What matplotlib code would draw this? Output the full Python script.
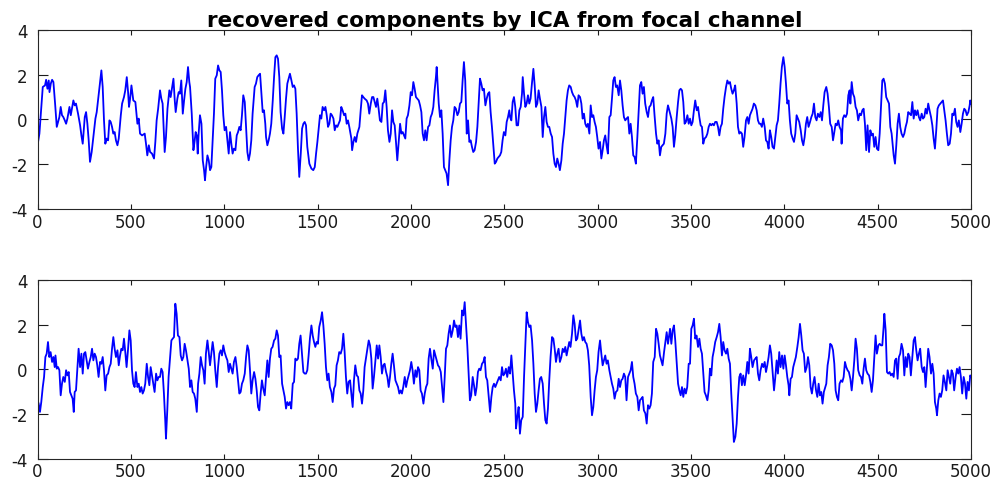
import numpy as np
import matplotlib
matplotlib.use('Agg')
import matplotlib.pyplot as plt

# ICA components, (sample, amplitude) vertices
comp1 = [
    (0,-1.15),(10,-0.63),(28,1.45),(40,1.52),(46,1.77),(53,1.37),(60,1.74),(64,1.22),(71,1.60),(78,1.77),(85,1.67),(94,0.71),(103,-0.33),(110,-0.11),(117,0.11),(124,0.56),(131,0.19),(138,0.11),(146,-0.04),(153,-0.19),(160,0.04),(171,0.56),(178,0.19),(192,0.85),(199,0.63),(206,0.71),(217,0.26),(228,-0.26),(235,-0.71),(242,-1.08),(246,-0.63),(253,0.11),(260,0.33),(267,-0.19),(274,-0.93),(281,-1.89),(290,-1.45),(299,-0.78),(310,0.04),(317,0.33),(328,1.15),(335,1.67),(342,2.19),(349,1.45),(356,-0.04),(363,-1.08),(371,-0.85),(378,-0.93),(385,-0.04),(392,-0.11),(399,-0.33),(406,-0.63),(413,-0.56),(420,-0.93),(428,-1.15),(435,-0.85),(446,0.19),(453,0.71),(463,1.00),(470,1.30),(478,1.89),(485,1.22),(490,0.56),(496,0.93),(503,1.52),(513,0.85),(524,0.78),(535,-0.19),(542,0.04),(549,-0.63),(560,-0.71),(574,-0.63),(581,-1.08),(588,-1.60),(596,-1.15),(603,-1.45),(613,-1.52),(624,-1.74),(631,-1.00),(638,-0.04),(646,0.48),(656,1.30),(663,0.93),(670,0.71),(681,-1.45),(688,-0.78),(696,0.48),(706,1.30),(713,1.00),(720,1.37),(728,1.82),(735,0.85),(740,0.33),(749,0.93),(756,1.22),(763,1.15),(770,1.74),(778,0.26),(785,0.85),(792,1.37),(799,1.67),(806,2.34),(813,1.67),
    (817,1.45),(826,0.26),(835,-1.37),(842,-0.93),(847,-0.56),(853,-0.71),(858,-1.52),(863,-0.63),(870,0.19),(878,-0.19),(885,-1.82),(892,-2.26),(897,-2.71),(903,-2.12),(910,-1.60),(917,-1.82),(924,-2.26),(931,-2.12),(938,-0.93),(945,0.26),(952,1.82),(960,1.97),(967,2.41),(974,2.19),(981,2.12),(988,1.30),(995,0.19),(1002,-0.48),(1010,-0.33),(1017,-0.93),(1024,-1.52),(1031,-0.56),(1038,-1.08),(1045,-1.52),(1052,-1.30),(1060,-1.37),(1067,-0.71),(1074,-0.56),(1081,-0.33),(1088,-0.48),(1095,0.19),(1102,1.08),(1110,0.78),(1117,-0.33),(1124,-1.45),(1131,-1.82),(1138,-1.52),(1145,-0.93),(1152,0.26),(1163,1.45),(1170,1.60),(1177,1.89),(1184,1.97),(1192,2.04),(1199,1.15),(1206,0.33),(1213,0.41),(1220,-0.19),(1224,-0.78),(1231,-1.15),(1238,-0.93),(1245,-0.63),(1252,-0.19),(1260,0.85),(1267,1.89),(1274,2.78),(1281,2.86),(1288,2.71),(1295,1.89),(1302,0.33),(1310,-0.41),(1317,-0.63),(1324,0.11),(1331,0.93),(1338,1.60),(1345,1.82),(1352,2.04),(1360,1.74),(1367,1.45),(1374,1.52),(1381,1.37),(1388,0.26),(1395,-1.30),(1402,-2.56),(1410,-1.52),(1417,-0.41),(1424,-0.19),(1431,-0.11),(1438,-0.26),(1445,-1.22),(1456,-1.97),(1467,-2.19),(1477,-2.26),(1485,-2.12),(1492,-1.52),(1499,-1.00),(1506,-0.41),(1513,0.19),(1520,0.04),(1527,0.56),(1535,0.41),(1542,0.56),(1549,0.19),(1556,-0.33),(1563,-0.19),(1570,0.26),(1577,0.19),(1585,0.04),(1592,-0.48),(1599,-0.26),(1606,-0.33),(1613,-0.19),(1620,-0.04),(1627,0.56),(1634,0.41),(1642,0.19),(1649,0.26),(1656,-0.19),(1663,-0.04),(1670,-0.33),
    (1681,-0.85),(1685,-1.37),(1692,-1.00),(1699,-0.78),(1706,-1.00),(1713,-0.63),(1724,-0.33),(1731,0.41),(1738,1.08),(1745,1.00),(1752,0.93),(1763,0.85),(1770,0.71),(1777,0.26),(1785,0.71),(1792,1.00),(1799,1.00),(1806,0.78),(1813,0.56),(1820,0.93),(1827,0.48),(1834,-0.04),(1842,-0.11),(1849,0.71),(1856,0.78),(1863,1.30),(1870,0.56),(1877,-0.48),(1885,-1.00),(1892,-0.63),(1899,0.41),(1906,-0.11),(1913,-0.26),(1920,-1.00),(1927,-1.82),(1934,-1.08),(1942,-0.19),(1949,-0.63),(1956,-0.56),(1963,-0.71),(1970,-0.85),(1977,0.04),(1984,0.19),(1992,0.63),(1999,1.22),(2006,1.08),(2013,1.67),(2020,1.37),(2027,1.00),(2034,0.93),(2042,0.85),(2049,0.63),(2056,0.33),(2063,-0.63),(2070,-0.93),(2077,-0.48),(2084,-0.93),(2092,-0.33),(2099,-0.26),(2106,0.11),(2113,0.26),(2120,0.56),(2127,1.30),(2134,1.89),(2138,2.34),(2142,1.74),(2149,0.71),(2156,0.11),(2163,0.41),(2170,-0.63),(2177,-2.12),(2184,-2.26),(2191,-2.41),(2199,-2.93),(2206,-1.82),(2213,-0.93),(2220,-0.33),(2227,-0.04),(2234,0.56),(2241,0.48),(2249,0.19),(2256,0.33),(2263,0.71),(2270,0.78),(2277,1.74),(2284,2.56),(2291,1.74),(2299,-0.63),(2306,-0.04),(2313,-1.00),(2320,-0.93),(2327,-1.22),(2334,-1.45),(2341,-1.37),(2349,-1.00),(2356,-0.33),(2363,0.78),(2370,1.82),(2377,1.60),(2384,1.30),(2391,1.37),(2399,0.63),(2406,0.93),(2413,1.15),(2420,1.22),(2427,0.33),(2434,-0.33),(2441,-1.08),(2449,-1.97),(2456,-1.89),(2463,-1.74),(2470,-1.67),(2477,-1.60),(2484,-1.45),(2491,-0.93),(2498,-0.56),(2506,-0.71),(2513,-0.11),(2520,0.11),(2527,0.41),
    (2531,0.11),(2538,-0.04),(2545,0.78),(2552,1.00),(2559,0.56),(2566,-0.26),(2574,-0.26),(2581,0.41),(2588,0.56),(2595,1.15),(2599,1.89),(2606,1.15),(2613,0.56),(2620,0.71),(2627,1.08),(2634,0.71),(2641,0.93),(2649,1.67),(2656,2.26),(2663,1.52),(2670,0.56),(2677,0.71),(2684,1.30),(2691,0.93),(2699,0.56),(2706,-0.78),(2713,0.11),(2720,0.56),(2727,-0.11),(2734,-0.33),(2741,-0.33),(2749,-0.63),(2756,-0.78),(2763,-1.52),(2770,-1.97),(2777,-2.12),(2784,-1.74),(2791,-1.97),(2798,-2.26),(2806,-1.82),(2813,-1.08),(2820,-0.63),(2827,0.11),(2834,0.85),(2841,1.30),(2848,1.52),(2856,1.45),(2863,1.22),(2870,1.08),(2877,1.00),(2884,0.85),(2891,0.56),(2898,1.08),(2906,1.00),(2913,0.71),(2920,0.04),(2927,0.26),(2934,-0.19),(2941,-0.33),(2948,-0.19),(2956,-0.63),(2963,0.63),(2970,0.11),(2977,0.19),(2984,-0.11),(2991,-0.33),(2998,-0.78),(3005,-1.30),(3013,-1.00),(3020,-1.74),(3027,-1.37),(3034,-0.93),(3041,-0.71),(3048,-1.15),(3055,-1.52),(3063,0.11),(3070,0.19),(3077,0.93),(3084,1.74),(3091,1.89),(3098,1.45),(3105,1.52),(3113,1.08),(3120,1.74),(3127,1.30),(3134,0.63),(3141,0.11),(3148,-0.04),(3155,0.04),(3163,0.11),(3170,-0.63),(3177,-0.19),(3184,-0.78),(3191,-1.60),(3198,-1.67),(3205,-1.97),(3213,-0.78),(3220,0.41),(3227,1.52),(3234,1.67),(3241,1.15),(3248,1.45),(3255,0.71),(3263,0.33),(3270,0.11),(3277,0.56),(3284,0.63),(3291,0.85),(3298,1.00),(3305,0.19),(3313,-0.63),(3320,-1.08),(3327,-0.93),(3334,-1.60),(3341,-1.22),(3348,-1.15),(3355,-1.08),(3363,-0.63),(3370,0.26),(3377,0.63),(3384,0.41),
    (3395,0.04),(3402,-0.33),(3409,-1.22),(3416,-0.71),(3423,0.04),(3431,0.78),(3438,1.30),(3445,1.37),(3452,1.30),(3459,0.78),(3466,-0.19),(3473,-0.11),(3481,0.19),(3488,-0.19),(3495,0.04),(3502,-0.26),(3509,-0.11),(3516,0.41),(3523,0.85),(3531,0.41),(3538,0.56),(3545,0.11),(3552,-0.26),(3559,-0.33),(3566,-1.08),(3573,-0.85),(3581,-0.78),(3588,-0.63),(3595,-0.33),(3602,-0.19),(3609,-0.26),(3616,-0.19),(3623,-0.26),(3630,-0.11),(3638,-0.11),(3645,-0.33),(3652,-0.71),(3659,-0.33),(3666,-0.19),(3673,0.48),(3680,1.00),(3688,1.45),(3695,1.74),(3702,1.60),(3709,1.67),(3716,1.37),(3723,1.15),(3730,1.30),(3737,1.52),(3745,0.71),(3752,-0.33),(3759,-0.63),(3766,-0.56),(3773,-0.63),(3780,-1.22),(3787,-0.78),(3795,-0.04),(3802,0.11),(3809,-0.19),(3816,0.19),(3823,0.33),(3830,0.48),(3837,0.71),(3845,0.63),(3852,0.41),(3859,-0.04),(3866,-0.19),(3873,-0.19),(3880,-0.33),(3887,0.04),(3895,-0.33),(3902,-0.93),(3909,-1.00),(3916,-1.30),(3923,-0.48),(3930,-0.78),(3937,-1.22),(3945,-1.30),(3952,-0.78),(3959,-0.26),(3966,-0.04),(3973,0.71),(3980,1.60),(3987,2.34),(3995,2.78),(4002,2.34),(4009,1.60),(4016,0.71),(4023,0.85),(4030,-0.04),(4037,-0.63),(4045,-0.85),(4052,-1.00),(4059,-0.63),(4066,0.19),(4073,0.04),(4080,-0.11),(4088,-0.48),(4095,-0.93),(4102,-1.15),(4109,-0.78),(4116,-0.19),(4123,0.11),(4130,-0.33),(4138,-0.11),(4145,0.11),(4152,0.26),(4159,0.71),(4166,0.11),(4173,-0.04),(4180,0.26),(4188,0.11),(4195,0.33),(4202,-0.04),(4209,0.63),(4216,1.22),
    (4225,1.45),(4232,1.15),(4239,0.56),(4246,-0.19),(4254,-0.33),(4261,-0.93),(4268,-0.56),(4275,-0.19),(4282,-0.26),(4289,-0.04),(4296,-0.33),(4304,-0.48),(4307,-1.08),(4314,0.04),(4321,0.19),(4329,0.11),(4336,0.26),(4343,1.08),(4350,1.30),(4354,0.71),(4361,1.67),(4368,1.15),(4375,1.00),(4382,0.56),(4389,0.41),(4396,-0.04),(4404,0.26),(4411,0.19),(4418,0.41),(4425,0.48),(4432,-0.19),(4439,-1.37),(4446,-0.26),(4454,-1.45),(4461,-0.48),(4468,-0.71),(4475,-0.63),(4482,-1.22),(4489,-0.78),(4496,-1.30),(4504,-1.37),(4511,-0.63),(4518,0.56),(4525,1.74),(4532,1.82),(4539,1.60),(4546,1.00),(4554,0.85),(4561,0.71),(4568,-0.33),(4575,-0.63),(4582,-1.22),(4586,-1.60),(4593,-1.97),(4600,-1.15),(4607,-0.19),(4614,0.26),(4621,-0.33),(4628,-0.63),(4636,-0.78),(4643,-0.63),(4650,-0.33),(4657,-0.11),(4664,0.33),(4671,0.26),(4679,0.19),(4686,0.78),(4693,0.04),(4700,0.41),(4707,0.19),(4714,0.41),(4721,0.11),(4728,-0.04),(4736,0.26),(4743,0.04),(4750,0.11),(4757,0.48),(4764,0.26),(4771,0.71),(4778,0.41),(4786,0.11),(4793,-0.26),(4800,-0.85),(4807,-1.30),(4814,-0.48),(4821,0.48),(4828,0.63),(4836,0.71),(4843,0.78),(4850,0.85),(4857,0.41),(4864,-0.04),(4871,-0.63),(4878,-1.15),(4886,-1.08),(4893,-0.63),(4900,0.26),(4907,0.19),(4914,0.48),(4921,-0.11),(4928,-0.33),(4935,-0.04),(4943,-0.56),(4950,-0.19),(4957,0.26),(4964,0.48),(4971,0.41),(4978,0.19),(4986,0.33),(4993,0.63),(4996,0.85),(5000,0.71),
]

comp2 = [
    (0,-1.38),(6,-1.53),(13,-1.90),(20,-1.46),(28,-0.79),(35,-0.34),(42,0.55),(49,0.70),(56,1.22),(63,0.55),(70,0.77),(78,0.33),(85,0.55),(92,0.10),(96,0.62),(103,0.03),(110,0.10),(117,-0.04),(124,-1.16),(131,-0.64),(138,-0.34),(146,-0.56),(153,-0.04),(160,-0.27),(167,-0.12),(174,-1.01),(181,-1.16),(188,-1.31),(194,-1.90),(199,-1.01),(206,-0.94),(213,-0.04),(220,0.92),(228,0.10),(235,0.70),(242,-0.19),(249,0.70),(256,0.77),(263,0.40),(270,0.03),(278,0.33),(285,0.55),(292,0.92),(299,0.40),(306,0.70),(313,0.55),(320,0.18),(327,-0.34),(335,0.33),(342,0.25),(349,0.55),(356,-0.04),(363,-0.94),(370,-0.27),(378,-0.19),(385,0.10),(392,0.25),(399,0.92),(406,1.44),(413,0.92),(420,0.55),(428,0.85),(435,0.18),(442,0.62),(449,0.92),(456,0.85),(463,1.37),(470,0.77),(477,0.10),(485,0.92),(492,1.74),(499,1.29),(506,-0.04),(513,-0.64),(520,-0.79),(527,-0.12),(535,-0.79),(542,-0.64),(549,-1.01),(556,-0.79),(563,-1.08),(570,-0.94),(577,-0.64),(585,0.25),(592,-0.34),(599,-0.71),(606,0.10),(613,-0.27),(620,-0.64),(627,-1.01),(635,-0.19),(642,-0.49),(649,-0.34),(656,-0.34),(663,0.03),(670,-0.12),(677,-1.08),(684,-2.27),(688,-3.09),(695,-1.83),(702,-0.34),(710,0.55),(717,1.29),(724,1.37),(731,1.44),(738,2.93),(745,2.48),(752,1.51),(760,1.44),(767,0.62),(774,0.40),(781,0.55),(788,1.14),(795,0.85),(803,0.40),(810,0.03),
    (817,-0.79),(824,-0.49),(831,-1.01),(838,-1.08),(845,-1.31),(853,-1.90),(860,-0.64),(867,-0.19),(874,0.55),(881,0.18),(888,-0.04),(895,-0.64),(902,0.70),(910,1.29),(917,0.77),(924,0.18),(931,0.70),(938,1.22),(945,0.77),(952,-0.04),(960,-0.79),(967,0.10),(974,0.70),(981,0.85),(988,0.62),(995,1.07),(1002,0.77),(1010,0.55),(1017,0.40),(1024,-0.12),(1031,0.25),(1038,0.03),(1045,-0.19),(1052,0.33),(1060,0.55),(1067,0.10),(1074,-0.49),(1081,-1.08),(1088,-1.01),(1095,-0.64),(1102,-0.49),(1110,-0.19),(1117,0.55),(1124,1.07),(1131,0.85),(1138,-0.04),(1145,-1.08),(1152,-0.49),(1160,-0.12),(1167,-0.42),(1174,-0.94),(1181,-1.68),(1188,-1.83),(1195,-1.08),(1202,-0.49),(1209,-0.86),(1217,-1.16),(1224,-0.34),(1231,0.40),(1238,-0.34),(1245,0.48),(1252,0.92),(1259,1.00),(1267,1.29),(1274,1.37),(1281,1.74),(1288,1.51),(1295,0.55),(1302,0.62),(1310,-0.64),(1317,-0.94),(1324,-1.23),(1331,-1.75),(1338,-1.46),(1345,-1.60),(1352,-1.46),(1359,-1.75),(1367,-0.64),(1374,-0.56),(1381,0.48),(1388,0.40),(1395,0.48),(1402,1.14),(1409,1.51),(1417,0.62),(1424,-0.12),(1431,-0.19),(1438,-0.19),(1445,-0.04),(1452,0.62),(1459,1.37),(1467,1.96),(1474,1.51),(1481,1.22),(1488,1.00),(1495,1.22),(1502,1.14),(1509,1.89),(1517,2.18),(1524,2.55),(1531,1.96),(1538,1.14),(1545,0.10),(1552,-0.49),(1559,-0.19),(1566,-0.79),(1574,-1.01),(1581,-1.46),(1588,-0.86),(1595,-0.71),(1602,0.18),(1609,0.40),(1616,0.77),(1624,0.70),(1631,0.92),(1638,1.59),(1645,0.77),(1652,-0.34),(1659,-1.08),(1666,-0.56),
    (1674,-0.49),(1681,-1.08),(1688,-1.68),(1695,-0.49),(1702,0.18),(1710,-0.27),(1717,-0.34),(1724,-0.94),(1731,-1.08),(1738,-1.53),(1745,-0.94),(1752,0.10),(1760,0.55),(1767,0.92),(1774,1.29),(1781,1.07),(1788,0.48),(1795,-0.86),(1802,-0.34),(1809,0.33),(1817,1.07),(1824,0.48),(1831,1.07),(1838,0.55),(1845,-0.19),(1852,0.18),(1859,0.25),(1867,-0.12),(1874,-0.34),(1881,-0.79),(1888,-0.34),(1895,0.25),(1902,0.70),(1909,0.18),(1917,-0.49),(1924,-0.64),(1931,-0.79),(1938,-1.08),(1945,-0.94),(1952,-1.08),(1959,-0.79),(1967,-0.34),(1974,-0.79),(1981,-0.49),(1988,-0.27),(1995,-0.04),(2002,0.33),(2009,-0.04),(2016,-0.64),(2024,-0.04),(2031,-0.34),(2038,0.10),(2045,-0.04),(2052,-0.94),(2059,-1.08),(2067,-1.53),(2074,-1.08),(2081,-0.79),(2088,-0.64),(2095,0.48),(2102,0.92),(2109,0.48),(2117,0.03),(2124,0.85),(2131,0.62),(2138,0.40),(2145,0.18),(2152,0.10),(2160,-0.12),(2167,-0.79),(2174,-1.46),(2181,-0.34),(2188,0.92),(2195,1.07),(2202,1.59),(2209,1.96),(2216,1.44),(2224,1.74),(2231,2.18),(2238,1.89),(2245,1.96),(2252,1.44),(2259,1.96),(2266,1.37),(2274,2.63),(2281,2.41),(2288,3.00),(2295,2.03),(2302,1.07),(2309,-0.19),(2316,-1.38),(2323,-1.16),(2331,-0.34),(2338,-0.71),(2345,-1.16),(2352,-0.79),(2359,-0.12),(2366,0.03),(2373,-0.04),(2381,0.25),(2388,0.33),(2395,0.55),(2402,-0.34),(2409,-0.49),(2416,-1.16),(2424,-1.90),(2431,-1.23),(2438,-0.79),(2445,-0.64),(2452,-0.79),(2459,-0.64),(2466,-0.49),(2473,-0.34),(2481,-0.49),(2488,0.10),(2495,-0.27),(2502,-0.19),(2509,0.03),(2516,-0.34),(2524,0.10),
    (2531,-0.19),(2538,0.62),(2545,-0.19),(2552,-0.94),(2559,-1.53),(2563,-2.64),(2570,-2.12),(2577,-1.68),(2584,-2.87),(2591,-2.27),(2599,-2.12),(2606,-0.34),(2613,1.14),(2620,2.55),(2627,2.11),(2634,1.89),(2641,1.96),(2649,1.29),(2656,0.25),(2663,-1.08),(2670,-1.90),(2677,-1.53),(2684,-0.94),(2691,-0.42),(2698,-0.34),(2706,-0.64),(2713,-1.53),(2720,-2.27),(2727,-2.42),(2734,-1.75),(2741,-0.49),(2748,0.55),(2756,1.44),(2763,1.37),(2770,0.92),(2777,0.33),(2784,0.70),(2791,0.92),(2798,0.33),(2806,0.55),(2813,0.92),(2820,0.77),(2827,1.00),(2834,0.62),(2841,0.92),(2848,1.22),(2855,1.00),(2863,1.59),(2870,2.41),(2877,2.03),(2884,1.29),(2891,1.37),(2898,1.74),(2906,2.18),(2913,1.59),(2920,1.29),(2927,1.44),(2934,1.22),(2941,1.14),(2948,0.85),(2955,0.18),(2963,-1.23),(2970,-2.05),(2977,-1.68),(2984,-0.94),(2991,-0.34),(2998,-0.04),(3005,0.77),(3013,1.29),(3020,0.70),(3027,0.18),(3034,0.40),(3041,0.62),(3048,0.25),(3055,0.40),(3063,-0.04),(3070,-0.34),(3077,-0.64),(3084,-0.86),(3091,-1.31),(3098,-1.01),(3106,-0.94),(3113,-0.42),(3120,-0.79),(3127,-0.49),(3134,-0.42),(3141,-0.19),(3148,-0.34),(3155,-1.38),(3163,-0.34),(3170,-0.19),(3177,-0.04),(3184,0.33),(3191,-0.34),(3198,-0.64),(3205,-1.08),(3213,-1.23),(3220,-1.83),(3227,-1.38),(3234,-1.31),(3241,-1.23),(3248,-1.83),(3256,-1.97),(3263,-2.42),(3270,-1.60),(3277,-1.75),(3284,-1.60),(3291,-1.08),(3298,0.33),(3306,0.55),(3313,1.81),(3320,1.59),(3327,1.14),(3334,0.62),(3341,0.40),(3348,0.18),(3356,0.77),(3363,1.22),(3370,1.66),(3377,1.14),(3384,1.59),
    (3388,1.81),(3395,1.14),(3402,1.74),(3409,1.96),(3416,1.29),(3423,0.40),(3431,-0.64),(3438,-0.94),(3445,-1.16),(3452,-0.79),(3459,-1.23),(3466,-0.86),(3473,-1.08),(3480,-0.79),(3488,0.25),(3495,0.25),(3502,1.81),(3509,1.96),(3516,2.26),(3523,1.37),(3530,1.51),(3538,1.00),(3545,1.37),(3552,0.92),(3559,0.70),(3566,-0.19),(3573,-1.01),(3580,-1.16),(3588,-1.38),(3595,-0.94),(3602,0.03),(3609,-0.27),(3616,0.55),(3623,0.85),(3630,1.22),(3638,1.44),(3645,1.66),(3652,2.03),(3659,1.44),(3666,0.62),(3673,1.22),(3680,0.85),(3688,0.70),(3695,0.92),(3702,0.48),(3709,0.25),(3716,-1.08),(3723,-2.12),(3730,-3.24),(3738,-3.01),(3745,-2.42),(3752,-1.23),(3759,-0.34),(3766,-0.19),(3773,-0.71),(3780,-0.27),(3788,-0.71),(3795,-0.27),(3802,0.33),(3809,-0.19),(3816,0.92),(3823,0.55),(3830,0.10),(3838,0.40),(3845,0.48),(3852,0.55),(3859,-0.19),(3866,-0.49),(3873,-0.04),(3881,0.25),(3888,0.10),(3895,0.33),(3902,-0.12),(3909,0.18),(3916,0.55),(3923,1.07),(3930,0.70),(3938,-0.19),(3945,-0.94),(3952,-0.34),(3959,0.40),(3966,-0.19),(3973,0.77),(3980,0.10),(3988,0.62),(3995,0.03),(4002,0.62),(4009,0.18),(4016,-0.34),(4023,-0.71),(4027,-1.16),(4034,-0.42),(4041,-0.34),(4048,0.10),(4055,0.33),(4062,0.55),(4070,1.00),(4077,1.44),(4084,2.03),(4091,1.51),(4098,0.85),(4105,0.70),(4112,-0.12),(4120,0.10),(4127,0.55),(4134,0.18),(4141,-0.79),(4148,-1.08),(4155,-0.64),(4162,-0.34),(4170,-0.94),(4177,-1.23),(4184,-0.64),(4191,-1.16),(4198,-1.01),(4205,-1.53),(4212,-1.01),
    (4225,-0.64),(4232,0.18),(4239,0.55),(4246,1.14),(4254,1.07),(4261,0.85),(4268,0.25),(4275,-0.94),(4282,-1.23),(4289,-1.38),(4296,-0.64),(4304,-0.49),(4311,-0.56),(4318,-0.34),(4325,0.33),(4332,0.10),(4339,-0.04),(4346,-0.12),(4354,-0.42),(4361,-0.94),(4368,-0.34),(4375,0.40),(4382,1.37),(4389,0.92),(4396,-0.04),(4404,-0.27),(4411,-0.34),(4418,-0.64),(4425,0.03),(4432,0.48),(4439,-0.04),(4446,-0.19),(4454,-0.27),(4461,-0.56),(4468,-1.01),(4475,-0.49),(4482,0.55),(4489,1.51),(4496,0.70),(4504,1.07),(4511,1.14),(4518,1.07),(4525,1.07),(4532,1.89),(4536,2.48),(4543,1.74),(4550,-0.12),(4557,-0.19),(4564,-0.12),(4571,-0.27),(4578,-0.19),(4586,-0.34),(4593,0.40),(4600,0.48),(4607,-0.42),(4614,0.55),(4621,0.70),(4628,1.14),(4636,0.85),(4643,-0.27),(4650,0.55),(4657,0.10),(4664,0.70),(4671,0.55),(4678,-0.27),(4686,0.55),(4693,1.29),(4700,1.44),(4707,0.85),(4714,0.40),(4721,0.70),(4728,0.92),(4736,0.10),(4743,-0.12),(4750,0.10),(4757,-0.79),(4764,0.10),(4771,0.92),(4778,0.55),(4786,-0.19),(4793,0.25),(4800,-0.19),(4807,-1.46),(4814,-1.75),(4818,-2.05),(4825,-1.38),(4832,-1.08),(4839,-1.23),(4846,-0.94),(4853,-0.27),(4860,-0.56),(4868,-0.94),(4875,-0.04),(4882,-0.34),(4889,-0.64),(4896,-0.04),(4903,-0.19),(4910,-0.94),(4918,-0.34),(4925,0.03),(4932,-0.19),(4939,0.10),(4946,-0.34),(4953,-1.08),(4961,-0.34),(4968,-0.64),(4975,-1.31),(4982,-0.56),(4989,-0.94),(4996,-0.27),(5000,-0.34),
]

x_ticks = [0, 500, 1000, 1500, 2000, 2500, 3000, 3500, 4000, 4500, 5000]
y_ticks = [-4, -2, 0, 2, 4]
title = 'recovered components by ICA from focal channel'

plt.rcParams['font.family'] = 'DejaVu Sans'
plt.rcParams['axes.unicode_minus'] = False

fig = plt.figure(figsize=(10.01, 4.81), dpi=100)
ax1 = fig.add_axes([0.0375, 0.563, 0.9325, 0.373])
ax2 = fig.add_axes([0.0375, 0.0437, 0.9325, 0.3727])

for ax, comp in ((ax1, comp1), (ax2, comp2)):
    t, v = np.array(comp).T
    ax.plot(t, v, color='#0000ff', lw=1.3)
    ax.set_xlim(0, 5000)
    ax.set_ylim(-4, 4)
    ax.set_xticks(x_ticks)
    ax.set_yticks(y_ticks)
    ax.tick_params(axis='both', direction='in', top=True, right=True,
                   colors='#1a1a1a', labelsize=12, width=0.8)
    ax.tick_params(axis='x', length=3.5, pad=2.5)
    ax.tick_params(axis='y', length=7, pad=7)
    for sp in ax.spines.values():
        sp.set_color('#262626')
        sp.set_linewidth(0.8)

ax1.set_title(title, fontsize=15.5, fontweight='bold', pad=3)

fig.savefig('out.png', dpi=100)
